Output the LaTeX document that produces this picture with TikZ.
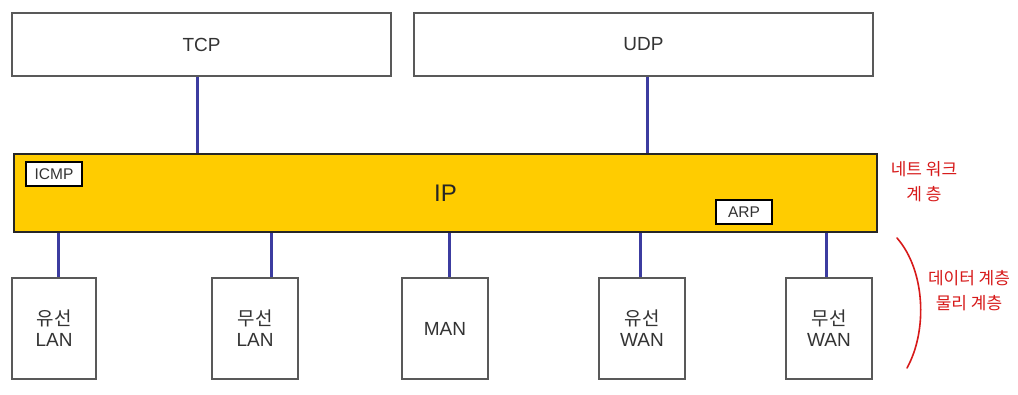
\documentclass[tikz,border=0pt]{standalone}
\usepackage{fontspec}
\setmainfont{Liberation Sans}
\newfontfamily\kr{Noto Sans CJK KR}
\begin{document}
\begin{tikzpicture}[x=1pt,y=-1pt,
  box/.style={draw=black!65, line width=1.2pt, fill=white, text=black!80, font=\fontsize{19}{22}\selectfont, inner sep=0pt, align=center},
  small/.style={draw=black, line width=1.3pt, fill=white, text=black!80, font=\fontsize{15.5}{17}\selectfont, inner sep=0pt},
  link/.style={line width=3pt, color={rgb,255:red,60;green,60;blue,160}},
  note/.style={text={rgb,255:red,215;green,25;blue,25}, font=\kr\fontsize{17}{25}\selectfont, align=center, inner sep=0pt}]
\useasboundingbox (0,0) rectangle (1018,394);
\fill[white] (0,0) rectangle (1018,394);
% top boxes
\node[box, minimum width=379pt, minimum height=63pt] (tcp) at (201.5,44.5) {TCP};
\node[box, minimum width=459pt, minimum height=63pt] (udp) at (643.5,44.5) {UDP};
% IP layer
\node[draw=black!85, line width=1.6pt, fill={rgb,255:red,255;green,204;blue,0}, minimum width=863pt, minimum height=78pt, inner sep=0pt, text=black!85, font=\fontsize{24}{27}\selectfont] (ip) at (445.5,193) {IP};
\node[small, minimum width=56pt, minimum height=24pt] (icmp) at (54,174) {ICMP};
\node[small, minimum width=56pt, minimum height=24pt] (arp) at (744,212) {ARP};
% bottom boxes
\node[box, minimum width=84pt, minimum height=101pt] (b1) at (54,328.5) {{\kr 유선}\\[-1pt]LAN};
\node[box, minimum width=86pt, minimum height=101pt] (b2) at (255,328.5) {{\kr 무선}\\[-1pt]LAN};
\node[box, minimum width=86pt, minimum height=101pt] (b3) at (445,328.5) {MAN};
\node[box, minimum width=86pt, minimum height=101pt] (b4) at (642,328.5) {{\kr 유선}\\[-1pt]WAN};
\node[box, minimum width=86pt, minimum height=101pt] (b5) at (829,328.5) {{\kr 무선}\\[-1pt]WAN};
% links
\draw[link] (197,0 |- tcp.south) -- (197,0 |- ip.north);
\draw[link] (647,0 |- udp.south) -- (647,0 |- ip.north);
\draw[link] (58,0 |- ip.south) -- (58,0 |- b1.north);
\draw[link] (271,0 |- ip.south) -- (271,0 |- b2.north);
\draw[link] (449,0 |- ip.south) -- (449,0 |- b3.north);
\draw[link] (640,0 |- ip.south) -- (640,0 |- b4.north);
\draw[link] (826,0 |- ip.south) -- (826,0 |- b5.north);
% annotations
\node[note] (n1) at (924,182) {네트 워크\\계 층};
\coordinate (c1) at (897,238);
\coordinate (c2) at (907,368);
\draw[line width=1.6pt, draw={rgb,255:red,215;green,25;blue,25}, line cap=round] (c1) .. controls (925,270) and (928,330) .. (c2);
\node[note] (n2) at (969,291) {데이터 계층\\물리 계층};
\end{tikzpicture}
\end{document}
